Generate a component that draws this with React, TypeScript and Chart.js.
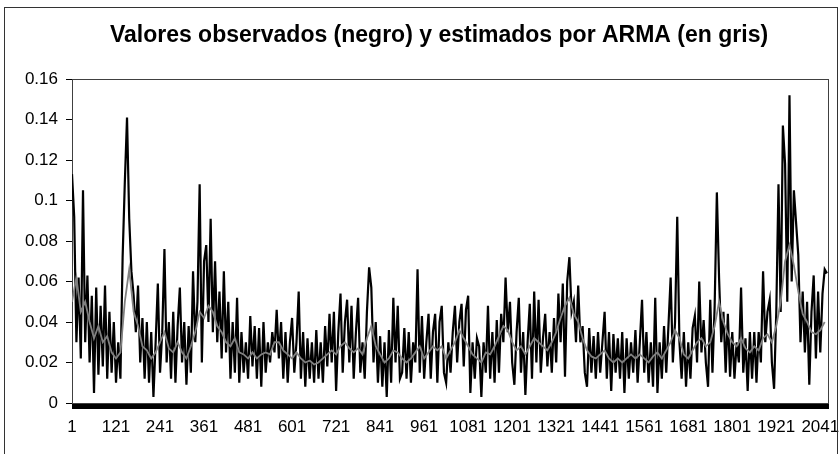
import { useEffect, useRef } from 'react';
import { Chart, registerables } from 'chart.js';

Chart.register(...registerables);

const TITLE = 'Valores observados (negro) y estimados por ARMA (en gris)';

// Observation index range and x-axis label spacing
const X_FIRST = 1;
const X_LAST = 2062;
const X_LABEL_EVERY = 120;

// Y axis
const Y_MIN = 0;
const Y_MAX = 0.16;
const Y_STEP = 0.02;

const OBS_STEP = 6;
const observed = [
  0.113, 0.092, 0.03, 0.062, 0.022, 0.105, 0.03, 0.063, 0.02, 0.053,
  0.005, 0.057, 0.014, 0.048, 0.018, 0.058, 0.012, 0.045, 0.015, 0.04,
  0.01, 0.03, 0.012, 0.072, 0.109, 0.141, 0.091, 0.065, 0.053, 0.035,
  0.058, 0.02, 0.042, 0.012, 0.04, 0.01, 0.035, 0.003, 0.03, 0.059,
  0.015, 0.035, 0.076, 0.02, 0.04, 0.012, 0.045, 0.01, 0.038, 0.057,
  0.02, 0.04, 0.009, 0.038, 0.015, 0.065, 0.03, 0.05, 0.108, 0.02,
  0.07, 0.078, 0.04, 0.091, 0.035, 0.07, 0.03, 0.055, 0.022, 0.065,
  0.025, 0.05, 0.012, 0.04, 0.015, 0.052, 0.01, 0.035, 0.015, 0.03,
  0.012, 0.043, 0.018, 0.038, 0.012, 0.037, 0.008, 0.04, 0.015, 0.03,
  0.02, 0.035, 0.025, 0.046, 0.022, 0.04, 0.012, 0.035, 0.01, 0.03,
  0.042, 0.015, 0.03, 0.055, 0.012, 0.035, 0.008, 0.032, 0.012, 0.03,
  0.01, 0.036, 0.012, 0.03, 0.01, 0.038, 0.018, 0.044, 0.02, 0.045,
  0.006, 0.035, 0.054, 0.015, 0.04, 0.051, 0.02, 0.048, 0.012, 0.035,
  0.052, 0.015, 0.03, 0.012, 0.045, 0.067, 0.057, 0.02, 0.04, 0.01,
  0.033, 0.008, 0.03, 0.003, 0.036, 0.01, 0.052, 0.02, 0.048, 0.012,
  0.015, 0.037, 0.012, 0.035, 0.01, 0.03, 0.02, 0.066, 0.015, 0.043,
  0.012, 0.03, 0.044, 0.012, 0.035, 0.044, 0.01, 0.04, 0.048, 0.015,
  0.01, 0.03, 0.015, 0.035, 0.048, 0.02, 0.04, 0.049, 0.018, 0.046,
  0.053, 0.005, 0.03, 0.012, 0.032, 0.028, 0.003, 0.03, 0.015, 0.048,
  0.012, 0.035, 0.01, 0.041, 0.015, 0.044, 0.03, 0.062, 0.035, 0.05,
  0.02, 0.009, 0.035, 0.052, 0.015, 0.035, 0.004, 0.03, 0.049, 0.012,
  0.055, 0.02, 0.051, 0.015, 0.032, 0.044, 0.018, 0.035, 0.015, 0.042,
  0.02, 0.054, 0.03, 0.059, 0.013, 0.06, 0.072, 0.045, 0.05, 0.03,
  0.058, 0.03, 0.038, 0.015, 0.008, 0.037, 0.015, 0.033, 0.012, 0.035,
  0.015, 0.03, 0.045, 0.012, 0.035, 0.006, 0.034, 0.015, 0.032, 0.012,
  0.035, 0.005, 0.032, 0.012, 0.03, 0.015, 0.036, 0.01, 0.03, 0.051,
  0.015, 0.035, 0.01, 0.03, 0.008, 0.052, 0.005, 0.03, 0.012, 0.038,
  0.015, 0.038, 0.062, 0.02, 0.04, 0.092, 0.03, 0.012, 0.035, 0.008,
  0.03, 0.012, 0.037, 0.043, 0.02, 0.06, 0.025, 0.041, 0.02, 0.008,
  0.051, 0.015, 0.048, 0.104, 0.062, 0.03, 0.045, 0.015, 0.044, 0.013,
  0.035, 0.012, 0.03, 0.02, 0.057, 0.015, 0.032, 0.006, 0.035, 0.012,
  0.035, 0.01, 0.035, 0.02, 0.065, 0.03, 0.045, 0.051, 0.02, 0.007,
  0.045, 0.108, 0.045, 0.137, 0.118, 0.05, 0.152, 0.06, 0.105, 0.089,
  0.073, 0.03, 0.055, 0.025, 0.05, 0.009, 0.045, 0.063, 0.022, 0.055,
  0.025, 0.054, 0.066, 0.064,
];

// ARMA estimate (grey), sampled every EST_STEP observations
const EST_STEP = 12;
const estimated = [
  0.05, 0.062, 0.045, 0.05, 0.04, 0.032, 0.038, 0.03, 0.033, 0.025,
  0.022, 0.025, 0.05, 0.066, 0.045, 0.038, 0.028, 0.026, 0.022, 0.025,
  0.03, 0.035, 0.027, 0.025, 0.03, 0.025, 0.022, 0.028, 0.035, 0.045,
  0.042, 0.048, 0.045, 0.038, 0.035, 0.03, 0.028, 0.032, 0.025, 0.024,
  0.022, 0.025, 0.022, 0.024, 0.025, 0.024, 0.03, 0.03, 0.026, 0.024,
  0.022, 0.025, 0.022, 0.02, 0.021, 0.019, 0.02, 0.022, 0.024, 0.026,
  0.024, 0.028, 0.03, 0.027, 0.025, 0.027, 0.024, 0.032, 0.038, 0.028,
  0.024, 0.02, 0.022, 0.026, 0.025, 0.022, 0.02, 0.022, 0.025, 0.028,
  0.022, 0.025, 0.028, 0.026, 0.028, 0.022, 0.026, 0.03, 0.036, 0.032,
  0.028, 0.024, 0.022, 0.02, 0.025, 0.024, 0.028, 0.033, 0.038, 0.036,
  0.03, 0.026, 0.028, 0.024, 0.028, 0.032, 0.03, 0.028, 0.026, 0.03,
  0.035, 0.042, 0.048, 0.052, 0.044, 0.04, 0.032, 0.026, 0.023, 0.022,
  0.024, 0.026, 0.022, 0.02, 0.022, 0.02, 0.022, 0.024, 0.022, 0.024,
  0.022, 0.02, 0.023, 0.025, 0.022, 0.026, 0.03, 0.036, 0.032, 0.024,
  0.022, 0.026, 0.03, 0.032, 0.028, 0.03, 0.038, 0.05, 0.04, 0.034,
  0.03, 0.028, 0.032, 0.027, 0.025, 0.028, 0.026, 0.032, 0.034, 0.03,
  0.038, 0.05, 0.07, 0.078, 0.068, 0.055, 0.044, 0.04, 0.035, 0.034,
  0.036, 0.04,
];

const FONT = '"Liberation Sans", Arial, sans-serif';

function toPoints(values: number[], step: number) {
  return values.map((y, k) => ({ x: X_FIRST + k * step, y }));
}

export default function App() {
  const canvasRef = useRef<HTMLCanvasElement>(null);

  useEffect(() => {
    document.body.style.margin = '0';
    document.body.style.overflow = 'hidden';
    const canvas = canvasRef.current;
    if (!canvas) return;

    const plotFrame = {
      id: 'plotFrame',
      beforeDatasetsDraw(chart: any) {
        const { ctx, chartArea } = chart;
        ctx.save();
        ctx.strokeStyle = '#404040';
        ctx.lineWidth = 1;
        ctx.strokeRect(
          Math.round(chartArea.left) + 0.5,
          Math.round(chartArea.top) + 0.5,
          Math.round(chartArea.right - chartArea.left),
          Math.round(chartArea.bottom - chartArea.top)
        );
        ctx.restore();
      },
    };

    // Title drawn centred slightly left of the plot-area centre, as in the source
    const titlePlugin = {
      id: 'headTitle',
      afterDraw(chart: any) {
        const { ctx, chartArea } = chart;
        ctx.save();
        ctx.font = `bold 23px ${FONT}`;
        ctx.fillStyle = '#000';
        ctx.textAlign = 'center';
        ctx.textBaseline = 'middle';
        const cx = (chartArea.left + chartArea.right) / 2 - 11;
        ctx.fillText(TITLE, cx, chartArea.top - 43);
        ctx.restore();
      },
    };

    const chart = new Chart(canvas, {
      type: 'line',
      data: {
        datasets: [
          {
            label: 'Estimados ARMA',
            data: toPoints(estimated, EST_STEP),
            borderColor: '#808080',
            borderWidth: 1.8,
            pointRadius: 0,
            tension: 0,
            order: 0,
          },
          {
            label: 'Observados',
            data: toPoints(observed, OBS_STEP),
            borderColor: '#000000',
            borderWidth: 2.2,
            pointRadius: 0,
            tension: 0,
            order: 1,
          },
        ],
      },
      options: {
        responsive: false,
        animation: false,
        events: [],
        layout: { padding: { left: 0, right: 12, top: 79, bottom: 0 } },
        plugins: {
          legend: { display: false },
          tooltip: { enabled: false },
          title: { display: false },
        },
        scales: {
          x: {
            type: 'linear',
            min: X_FIRST,
            max: X_LAST,
            afterBuildTicks: (scale: any) => {
              const ticks = [];
              for (let v = X_FIRST; v <= X_LAST; v++) ticks.push({ value: v });
              scale.ticks = ticks;
            },
            afterFit: (scale: any) => {
              scale.height = 51;
            },
            ticks: {
              autoSkip: false,
              maxRotation: 0,
              minRotation: 0,
              color: '#000',
              padding: 8,
              font: { family: FONT, size: 17 },
              callback: (v: any) =>
                (Number(v) - X_FIRST) % X_LABEL_EVERY === 0 ? String(v) : '',
            },
            grid: {
              drawOnChartArea: false,
              drawTicks: true,
              tickLength: 6,
              color: '#000',
              lineWidth: 1,
            },
            border: { display: true, color: '#000', width: 1 },
          },
          y: {
            min: Y_MIN,
            max: Y_MAX,
            afterFit: (scale: any) => {
              scale.width = 72;
            },
            ticks: {
              stepSize: Y_STEP,
              color: '#000',
              padding: 8,
              font: { family: FONT, size: 17 },
              callback: (v: any) => String(Number(Number(v).toFixed(2))),
            },
            grid: {
              drawOnChartArea: false,
              drawTicks: true,
              tickLength: 6,
              color: '#000',
              lineWidth: 1,
            },
            border: { display: true, color: '#000', width: 1 },
          },
        },
      },
      plugins: [plotFrame, titlePlugin],
    } as any);

    return () => chart.destroy();
  }, []);

  return (
    <div style={{ position: 'relative', width: 840, height: 454, background: '#fff', overflow: 'hidden' }}>
      <canvas ref={canvasRef} width={840} height={454} style={{ display: 'block' }} />
      <div
        style={{
          position: 'absolute',
          left: 4,
          top: 7,
          width: 832,
          height: 470,
          border: '1.5px solid #333',
          pointerEvents: 'none',
        }}
      />
    </div>
  );
}
